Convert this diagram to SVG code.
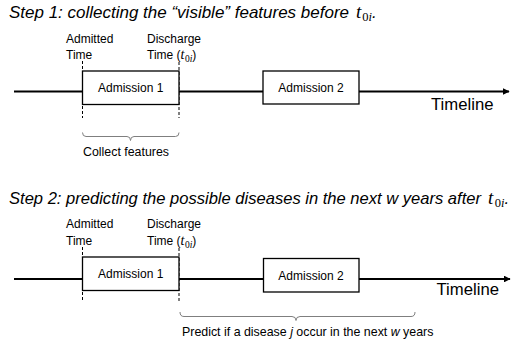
<svg xmlns="http://www.w3.org/2000/svg" width="520" height="347" viewBox="0 0 520 347">
<defs>
<style>
text{font-family:"Liberation Sans",Arial,sans-serif;fill:#000}
.title{font-size:17px;font-style:italic}
.math{font-family:"Liberation Serif","Times New Roman",serif;font-style:italic}
.up{font-style:normal}
.lbl{font-size:12px}
.box rect{fill:#fff;stroke:#000;stroke-width:1.3}
.box text{font-size:12px;text-anchor:middle}
.tl{stroke:#000;stroke-width:2;fill:none}
.dash{stroke:#000;stroke-width:1;stroke-dasharray:3 2;fill:none}
.brace{stroke:#7f7f7f;stroke-width:1;fill:none}
.tlabel{font-size:16.7px}
</style>
<marker id="arr" viewBox="0 0 10 10" refX="9" refY="5" markerWidth="3.4" markerHeight="3.4" orient="auto" markerUnits="strokeWidth">
<path d="M0,0 L10,5 L0,10 z" fill="#000"/>
</marker>
</defs>

<!-- Titles -->
<g id="title1">
<text class="title" x="9" y="18"><tspan textLength="340" lengthAdjust="spacingAndGlyphs">Step 1: collecting the “visible” features before</tspan><tspan class="math" x="356" font-size="19">t</tspan><tspan class="math up" font-size="12.5" dx="1" dy="3">0</tspan><tspan class="math" font-size="12.5">i</tspan><tspan dy="-3">.</tspan></text>
</g>
<g id="title2">
<text class="title" x="9" y="204"><tspan textLength="472" lengthAdjust="spacingAndGlyphs">Step 2: predicting the possible diseases in the next w years after</tspan><tspan class="math" x="488" font-size="19">t</tspan><tspan class="math up" font-size="12.5" dx="1.5" dy="3">0</tspan><tspan class="math" font-size="12.5">i</tspan><tspan dy="-3">.</tspan></text>
</g>

<!-- Connectors -->
<g id="connectors">
<!-- step 1 timeline -->
<line class="tl" x1="14" y1="91.5" x2="82.5" y2="91.5"/>
<line class="tl" x1="179" y1="91.5" x2="263" y2="91.5"/>
<line class="tl" x1="359" y1="91.5" x2="509" y2="91.5" marker-end="url(#arr)"/>
<line class="dash" x1="82.5" y1="61" x2="82.5" y2="118"/>
<line class="dash" x1="179" y1="62" x2="179" y2="118"/>
<path class="brace" d="M82.5,132.5 Q82.5,136.5 86,136.5 L127,136.5 Q130.5,136.5 130.5,140.5 Q130.5,136.5 134,136.5 L175.5,136.5 Q179,136.5 179,132.5"/>
<!-- step 2 timeline -->
<line class="tl" x1="14" y1="279" x2="82.5" y2="279"/>
<line class="tl" x1="179" y1="279" x2="263.5" y2="279"/>
<line class="tl" x1="359" y1="279" x2="510" y2="279" marker-end="url(#arr)"/>
<line class="dash" x1="82.5" y1="247" x2="82.5" y2="302"/>
<line class="dash" x1="179" y1="248" x2="179" y2="303"/>
<path class="brace" d="M180,312 Q180,316.5 184,316.5 L292,316.5 Q296,316.5 296,320.5 Q296,316.5 300,316.5 L411,316.5 Q415,316.5 415,312"/>
</g>

<!-- Step 1 nodes -->
<g id="admitted1">
<text class="lbl" x="66" y="43">Admitted</text>
<text class="lbl" x="66" y="59">Time</text>
</g>
<g id="discharge1">
<text class="lbl" x="147" y="43">Discharge</text>
<text class="lbl" x="147" y="59">Time (<tspan class="math" font-size="14">t</tspan><tspan class="math up" font-size="9.5" dx="0.5" dy="2.5">0</tspan><tspan class="math" font-size="9.5">i</tspan><tspan dy="-2.5">)</tspan></text>
</g>
<g id="adm1_s1" class="box">
<rect x="82.5" y="71" width="96.5" height="33.5"/>
<text x="130.7" y="92">Admission 1</text>
</g>
<g id="adm2_s1" class="box">
<rect x="263" y="71" width="96" height="33"/>
<text x="311" y="92">Admission 2</text>
</g>
<g id="timeline1">
<text class="tlabel" x="431" y="109.5">Timeline</text>
</g>
<g id="collect">
<text class="lbl" x="83" y="156" textLength="86" lengthAdjust="spacingAndGlyphs">Collect features</text>
</g>

<!-- Step 2 nodes -->
<g id="admitted2">
<text class="lbl" x="66" y="228">Admitted</text>
<text class="lbl" x="66" y="245">Time</text>
</g>
<g id="discharge2">
<text class="lbl" x="147" y="228">Discharge</text>
<text class="lbl" x="147" y="245">Time (<tspan class="math" font-size="14">t</tspan><tspan class="math up" font-size="9.5" dx="0.5" dy="2.5">0</tspan><tspan class="math" font-size="9.5">i</tspan><tspan dy="-2.5">)</tspan></text>
</g>
<g id="adm1_s2" class="box">
<rect x="82.5" y="257" width="96.5" height="33.5"/>
<text x="130.7" y="278">Admission 1</text>
</g>
<g id="adm2_s2" class="box">
<rect x="263.5" y="258.5" width="95.5" height="33.5"/>
<text x="311" y="279.5">Admission 2</text>
</g>
<g id="timeline2">
<text class="tlabel" x="436.5" y="295">Timeline</text>
</g>
<g id="predict">
<text x="182" y="336" font-size="12.4">Predict if a disease <tspan font-style="italic">j</tspan> occur in the next <tspan font-style="italic">w</tspan> years</text>
</g>
</svg>
